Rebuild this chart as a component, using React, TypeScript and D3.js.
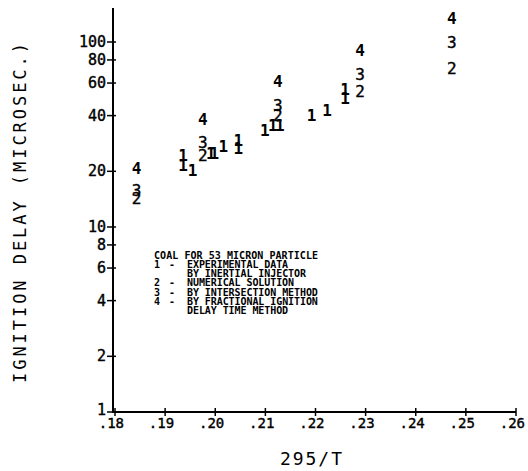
import React from 'react';
import * as d3 from 'd3';

// 295/T positions and ignition delays (microsec).
const expX = [0.1936, 0.1936, 0.1955, 0.1991, 0.1998, 0.2016, 0.2046, 0.2046, 0.2099, 0.2115, 0.2129, 0.2192, 0.2223, 0.2259, 0.2259];
const expY = [24.5, 21.6, 20.3, 25.0, 25.0, 27.2, 29.5, 26.7, 33.4, 35.2, 35.2, 40.3, 42.4, 55.1, 49.8];

const calcX = [0.1843, 0.1975, 0.2125, 0.2289, 0.2472];
const numericalY = [14.3, 24.5, 40.3, 53.9, 72.1];
const intersectionY = [15.8, 28.6, 45.6, 67.1, 99.1];
const fractionalY = [20.8, 37.9, 61.0, 90.5, 134];

const xTicks = [0.18, 0.19, 0.2, 0.21, 0.22, 0.23, 0.24, 0.25, 0.26];
const yTicks = [1, 2, 4, 6, 8, 10, 20, 40, 60, 80, 100];

const legendTitle = 'COAL FOR 53 MICRON PARTICLE';
const legendKeys = ['1', '', '2', '3', '4', ''];
const legendLabels = [
  'EXPERIMENTAL DATA',
  'BY INERTIAL INJECTOR',
  'NUMERICAL SOLUTION',
  'BY INTERSECTION METHOD',
  'BY FRACTIONAL IGNITION',
  'DELAY TIME METHOD',
];

const MONO = '"DejaVu Sans Mono", "Liberation Mono", monospace';

export default function App() {
  const width = 528;
  const height = 471;
  const top = 8;

  const x = d3.scaleLinear().domain([0.18, 0.26]).range([115, 516]);
  const y = d3.scaleLog().domain([1, 100]).range([412, 42]);

  const series = [
    { mark: '1', xs: expX, ys: expY, bold: true },
    { mark: '2', xs: calcX, ys: numericalY, bold: false },
    { mark: '3', xs: calcX, ys: intersectionY, bold: false },
    { mark: '4', xs: calcX, ys: fractionalY, bold: true },
  ];

  const fmtX = (v: number) => d3.format('.2f')(v).replace(/^0/, '');
  const axisX = 113;
  const axisY = y(1);

  // Legend block
  const legX = 154;
  const legY = 255;
  const legStep = 9.3;

  return (
    <div style={{ position: 'absolute', left: 0, top: 0 }}>
      <svg width={width} height={height} style={{ display: 'block', background: '#fff' }}>
        {/* axes */}
        <line x1={axisX} x2={axisX} y1={top} y2={axisY + 1} stroke="#000" strokeWidth={2} />
        <line x1={axisX - 1} x2={x(0.26)} y1={axisY} y2={axisY} stroke="#000" strokeWidth={2} />

        {xTicks.map((t) => (
          <g key={`xt${t}`}>
            <line x1={x(t)} x2={x(t)} y1={axisY - 4} y2={axisY + 4} stroke="#000" strokeWidth={1.5} />
            <text
              x={x(t) + 9}
              y={axisY + 11}
              textAnchor="end"
              dominantBaseline="central"
              fontFamily={MONO}
              fontSize={14}
              stroke="#000"
              strokeWidth={0.4}
              fill="#000"
            >
              {fmtX(t)}
            </text>
          </g>
        ))}

        {yTicks.map((t) => (
          <g key={`yt${t}`}>
            <line x1={axisX - 6} x2={axisX + 3} y1={y(t)} y2={y(t)} stroke="#000" strokeWidth={1.5} />
            <text
              x={axisX - 7}
              y={y(t) - (t === 1 ? 2 : 0)}
              textAnchor="end"
              dominantBaseline="central"
              fontFamily={MONO}
              fontSize={15}
              stroke="#000"
              strokeWidth={0.4}
              fill="#000"
            >
              {t}
            </text>
          </g>
        ))}

        {/* axis titles */}
        <text
          x={311}
          y={458}
          textAnchor="middle"
          dominantBaseline="central"
          fontFamily={MONO}
          fontSize={18}
          textLength={62}
          lengthAdjust="spacing"
          fill="#000"
        >
          295/T
        </text>
        <text
          transform="translate(20,213) rotate(-90)"
          textAnchor="middle"
          dominantBaseline="central"
          fontFamily={MONO}
          fontSize={17}
          textLength={340}
          lengthAdjust="spacing"
          fill="#000"
        >
          IGNITION DELAY (MICROSEC.)
        </text>

        {/* data marks drawn as their series number */}
        {series.map((s) =>
          s.xs.map((xv, i) => (
            <text
              key={`${s.mark}-${i}`}
              x={x(xv)}
              y={y(s.ys[i])}
              textAnchor="middle"
              dominantBaseline="central"
              fontFamily={MONO}
              fontSize={16}
              fontWeight={s.bold ? 'bold' : 'normal'}
              stroke={s.bold ? 'none' : '#000'}
              strokeWidth={0.4}
              fill="#000"
            >
              {s.mark}
            </text>
          )),
        )}

        {/* legend */}
        <g fontFamily={MONO} fontSize={10} fontWeight="bold" fill="#000">
          <text x={legX} y={legY} dominantBaseline="central" textLength={164} lengthAdjust="spacing">
            {legendTitle}
          </text>
          {legendLabels.map((lab, i) => {
            const ly = legY + legStep * (i + 1);
            return (
              <g key={`leg${i}`}>
                {legendKeys[i] && (
                  <>
                    <text x={legX} y={ly} dominantBaseline="central">
                      {legendKeys[i]}
                    </text>
                    <text x={legX + 15} y={ly} dominantBaseline="central">
                      -
                    </text>
                  </>
                )}
                <text
                  x={legX + 33}
                  y={ly}
                  dominantBaseline="central"
                  textLength={lab.length * 5.95}
                  lengthAdjust="spacing"
                >
                  {lab}
                </text>
              </g>
            );
          })}
        </g>
      </svg>
    </div>
  );
}
